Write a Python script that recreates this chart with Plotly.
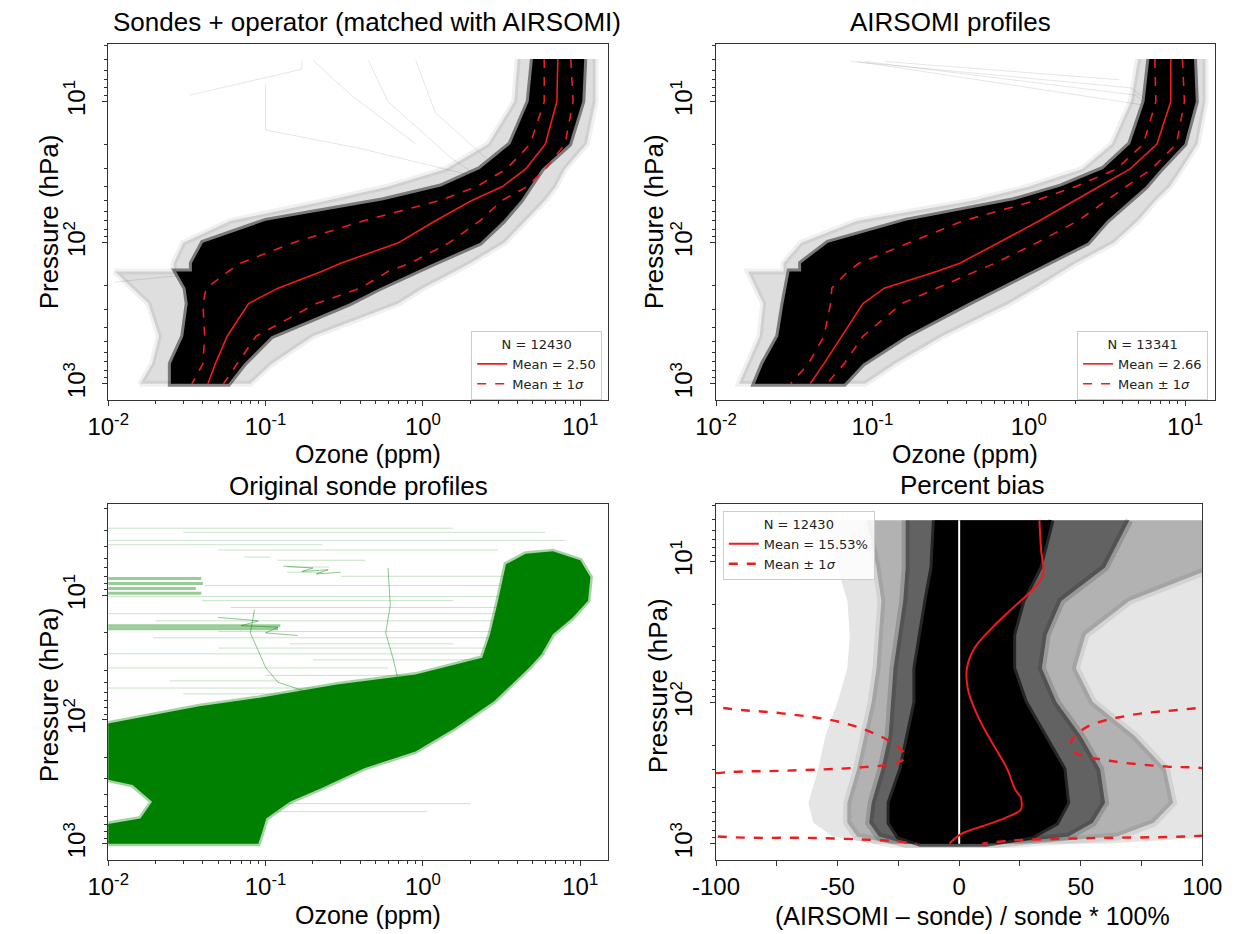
import plotly.graph_objects as go

# ======================= DATA =======================
# Pressure levels (hPa) shared by the two ozone-profile panels (160 repeated for the step)
P_LEV = [5, 10, 20, 30, 40, 50, 70, 100, 140, 160, 160, 210, 270, 460, 720, 1000]

# Panel 1: Sondes + operator (ppm)
op_mean   = [7.2, 7.1, 6.0, 4.5, 3.2, 2.06, 1.2, 0.70, 0.30, 0.227, 0.227, 0.12, 0.078, 0.057, 0.048, 0.043]
op_lo     = [5.9, 5.9, 4.8, 3.4, 2.2, 1.3, 0.42, 0.15, 0.069, 0.058, 0.058, 0.042, 0.040, 0.041, 0.040, 0.034]
op_hi     = [8.7, 9.0, 8.0, 6.0, 4.6, 3.2, 2.3, 1.47, 0.83, 0.60, 0.60, 0.40, 0.21, 0.087, 0.066, 0.054]
op_core_l = [5.0, 4.7, 3.6, 2.3, 1.3, 0.56, 0.10, 0.040, 0.034, 0.034, 0.027, 0.031, 0.032, 0.030, 0.025, 0.025]
op_core_r = [10.6, 10.3, 8.5, 5.7, 4.8, 4.2, 3.24, 2.31, 1.17, 0.93, 0.93, 0.53, 0.34, 0.109, 0.073, 0.058]
op_halo_l = [4.0, 3.8, 2.6, 1.4, 0.6, 0.25, 0.06, 0.03, 0.026, 0.026, 0.011, 0.014, 0.018, 0.021, 0.019, 0.016]
op_halo_r = [12.5, 12.5, 11, 8, 7, 6, 4.5, 3.3, 2.0, 1.6, 1.6, 1.0, 0.7, 0.2, 0.11, 0.08]
op_out_x = [[0.033, 0.17, 0.17], [0.10, 0.10, 0.40, 1.95], [0.9, 1.2, 2.5], [0.45, 0.6, 1.5, 2.8],
            [0.011, 0.03, 0.045], [0.2, 0.35, 0.9]]
op_out_p = [[9.0, 5.9, 5.1], [7.6, 15.9, 21.5, 33], [5.1, 12, 25], [5.1, 10, 25, 40],
            [190, 170, 150], [5.1, 9, 20]]

# Panel 2: AIRSOMI profiles (ppm)
ao_mean   = [8.1, 8.1, 6.6, 4.45, 2.82, 2.0, 1.17, 0.64, 0.362, 0.257, 0.257, 0.119, 0.087, 0.064, 0.049, 0.040]
ao_lo     = [6.4, 6.5, 5.4, 3.65, 2.0, 1.13, 0.38, 0.173, 0.082, 0.0695, 0.0695, 0.055, 0.054, 0.049, 0.039, 0.030]
ao_hi     = [9.6, 9.9, 8.8, 6.1, 4.2, 3.16, 2.06, 1.13, 0.605, 0.455, 0.455, 0.257, 0.154, 0.087, 0.066, 0.051]
ao_core_l = [5.9, 5.5, 4.45, 2.99, 1.6, 0.80, 0.163, 0.052, 0.035, 0.035, 0.0295, 0.028, 0.027, 0.025, 0.020, 0.0177]
ao_core_r = [11.4, 11.7, 9.9, 7.0, 5.6, 4.45, 3.16, 2.38, 1.27, 1.01, 1.01, 0.64, 0.406, 0.163, 0.087, 0.066]
ao_halo_l = [5.0, 4.5, 3.4, 2.2, 1.0, 0.45, 0.08, 0.035, 0.027, 0.027, 0.016, 0.018, 0.02, 0.019, 0.016, 0.014]
ao_halo_r = [13.5, 13.5, 12, 9.5, 8, 6.5, 5, 3.5, 2.0, 1.6, 1.6, 1.1, 0.75, 0.28, 0.14, 0.09]
ao_out_x = [[0.073, 4.5, 5.5], [0.09, 4.8, 6.0], [0.12, 3.8], [0.08, 5.2]]
ao_out_p = [[5.2, 8.0, 9.5], [5.2, 9.0, 11], [5.2, 7.0], [5.2, 10.5]]

# Panel 3: Original sonde profiles, outline of the dense green cloud
gr_poly_x = [0.009, 0.090, 0.0953, 0.101, 0.1426, 0.2255, 0.424, 0.897, 1.59, 2.83, 4.75, 5.65, 6.7, 8.93,
             11.2, 11.6, 10.0, 6.7, 4.49, 3.37, 3.0, 2.67, 2.38, 0.897, 0.284, 0.090, 0.0379, 0.019,
             0.009, 0.009, 0.0143, 0.019, 0.016, 0.009]
gr_poly_p = [1000, 1000, 800, 624, 457, 357, 246, 180, 117, 71, 38, 29.8, 20.5, 15.1,
             11.0, 7.1, 5.2, 4.4, 4.6, 5.6, 11.0, 20.5, 31.7, 43.3, 52, 66.8, 78, 91,
             110, 296, 336, 457, 624, 706]
gr_thick_p  = [7.3, 8.0, 8.8, 9.6, 17.5, 18.5]
gr_thick_x0 = [0.009, 0.009, 0.009, 0.009, 0.009, 0.009]
gr_thick_x1 = [0.039, 0.040, 0.036, 0.039, 0.124, 0.12]
gr_thin_p  = [2.87, 3.1, 3.6, 3.9, 4.3, 4.9, 5.2, 5.9, 6.5, 7.0, 8.3, 10.2, 11.0, 12.5, 14.0, 16.0, 19.5,
              21.9, 24.5, 26.5, 29.5, 33, 38.3, 44, 48.7, 55.6, 62, 474, 550]
gr_thin_x0 = [0.009, 0.03, 0.009, 0.009, 0.05, 0.073, 0.119, 0.137, 0.137, 0.3, 0.041, 0.009, 0.0395, 0.06,
              0.009, 0.02, 0.05, 0.0193, 0.143, 0.05, 0.009, 0.2, 0.009, 0.1, 0.0246, 0.009, 0.03, 0.1, 0.09]
gr_thin_x1 = [1.55, 6, 8, 0.23, 3.0, 0.107, 0.431, 0.254, 0.23, 4.0, 6, 6, 1.56, 5, 8, 3.5, 4.0,
              6, 1.56, 2.5, 6, 3.0, 0.6, 3.0, 0.124, 2.5, 1.2, 2.0, 1.06]
gr_wand_x = [[0.6, 0.62, 0.58, 0.65, 0.7, 0.8], [0.085, 0.08, 0.09, 0.1, 0.12, 0.2],
             [0.13, 0.2, 0.17, 0.25, 0.21, 0.3], [0.05, 0.09, 0.07, 0.12, 0.1, 0.16]]
gr_wand_p = [[6, 12, 20, 33, 50, 70], [13, 20, 28, 38, 50, 62],
             [5.8, 6.0, 6.4, 6.2, 6.7, 6.5], [15, 16, 17.5, 18, 20, 21]]

# Panel 4: Percent bias (%)
pb_mean_p = [5.1, 8.3, 12.2, 15.3, 21.2, 29.5, 41, 57, 79, 110, 153, 213, 296, 411, 471, 512, 572, 655, 751, 839, 912, 1000]
pb_mean   = [33.0, 33.7, 34.6, 31.0, 22.2, 13.5, 6.3, 3.2, 3.5, 6.3, 10.3, 15.1, 19.8, 23.0, 25.4, 25.7, 25.4,
             19.0, 9.5, 1.6, -1.6, -4.0]
pb_lo_p = [5.1, 60, 107, 119, 137, 171, 207, 240, 265, 288, 304, 316, 450, 700, 887, 912, 962, 1000]
pb_lo   = [-185, -160, -100, -73, -49, -33, -25, -22, -25, -41, -73, -100, -150, -150, -100, -57, -25.4, -17.5]
pb_hi_p = [5.1, 60, 108, 123, 149, 191, 225, 258, 284, 291, 450, 700, 877, 912, 947, 1000]
pb_hi   = [250, 200, 100, 70, 52.4, 46, 47.6, 61.9, 85.7, 100, 170, 170, 100, 54, 22.2, 9.5]
pb_band_p = [5.1, 11, 19, 33, 57, 99, 171, 296, 512, 711, 887, 1000]
pb_core_l = [-10, -11, -13.5, -16, -18, -18, -20.6, -23.8, -28.6, -28.6, -25, -16]
pb_core_r = [38, 33, 26, 22.2, 22.2, 27, 35, 42.9, 44.4, 40, 30, 11]
pb_dark_l = [-22, -22, -23, -25, -27, -28, -29, -32, -36, -37, -33, -22]
pb_dark_r = [70, 60, 42, 36, 34, 40, 50, 58, 60, 55, 45, 16]
pb_mid_l  = [-38, -34, -32, -33, -34, -36, -39, -42, -46, -46, -42, -28]
pb_mid_r  = [110, 105, 70, 52, 48, 55, 72, 85, 88, 80, 65, 24]
pb_out_l  = [-55, -50, -46, -45, -46, -50, -55, -58, -62, -60, -52, -35]
pb_out_r  = [110, 110, 110, 110, 110, 110, 110, 110, 110, 110, 110, 60]

N_TEXT = ["N = 12430", "N = 13341", "N = 12430"]
MEAN_TEXT = ["Mean = 2.50", "Mean = 2.66", "Mean = 15.53%"]

LOG_TICKS = [0.01, 0.1, 1, 10]
LOG_TICKTEXT = ["10<sup>-2</sup>", "10<sup>-1</sup>", "10<sup>0</sup>", "10<sup>1</sup>"]
P_TICKS = [10, 100, 1000]
P_TICKTEXT = ["10<sup>1</sup>", "10<sup>2</sup>", "10<sup>3</sup>"]
BIAS_TICKS = [-100, -50, 0, 50, 100]

# ======================= FIGURE =======================
FONT = "Liberation Sans, Arial, sans-serif"
LEGFONT = "DejaVu Sans, sans-serif"
W, H = 1250, 934
OFF = 8          # the page body margin shifts the figure by 8 px; positions below are page pixels
RED = "#ee1c1c"

fig = go.Figure()


def add_band(xl, xr, p, color, xa, ya, outline=None):
    fig.add_trace(go.Scatter(
        x=list(xl) + list(xr)[::-1], y=list(p) + list(p)[::-1],
        mode="lines", fill="toself", fillcolor=color,
        line=dict(width=outline[1] if outline else 0, color=outline[0] if outline else color),
        hoverinfo="skip", showlegend=False, xaxis=xa, yaxis=ya))


def add_line(x, p, color, width, xa, ya, dash="solid", name=None, legend=None, show=False, shape="linear"):
    fig.add_trace(go.Scatter(
        x=x, y=p, mode="lines", line=dict(color=color, width=width, dash=dash, shape=shape),
        name=name, legend=legend, showlegend=show, hoverinfo="skip", xaxis=xa, yaxis=ya))


# ---- panel 1 ----
for ox, opp in zip(op_out_x, op_out_p):
    add_line(ox, opp, "rgba(0,0,0,0.10)", 1, "x", "y")
add_band(op_halo_l, op_halo_r, P_LEV, "rgba(0,0,0,0.13)", "x", "y", outline=("rgba(0,0,0,0.06)", 6))
add_band(op_core_l, op_core_r, P_LEV, "black", "x", "y", outline=("rgba(0,0,0,0.45)", 6))
add_line(op_mean, P_LEV, RED, 1.6, "x", "y", name=MEAN_TEXT[0], legend="legend", show=True)
add_line(op_lo, P_LEV, RED, 1.6, "x", "y", dash="dash", name="Mean ± 1<i>σ</i>", legend="legend", show=True)
add_line(op_hi, P_LEV, RED, 1.6, "x", "y", dash="dash")

# ---- panel 2 ----
for ox, opp in zip(ao_out_x, ao_out_p):
    add_line(ox, opp, "rgba(0,0,0,0.10)", 1, "x2", "y2")
add_band(ao_halo_l, ao_halo_r, P_LEV, "rgba(0,0,0,0.13)", "x2", "y2", outline=("rgba(0,0,0,0.06)", 6))
add_band(ao_core_l, ao_core_r, P_LEV, "black", "x2", "y2", outline=("rgba(0,0,0,0.45)", 6))
add_line(ao_mean, P_LEV, RED, 1.6, "x2", "y2", name=MEAN_TEXT[1], legend="legend2", show=True)
add_line(ao_lo, P_LEV, RED, 1.6, "x2", "y2", dash="dash", name="Mean ± 1<i>σ</i>", legend="legend2", show=True)
add_line(ao_hi, P_LEV, RED, 1.6, "x2", "y2", dash="dash")

# ---- panel 3 ----
thin_x, thin_y = [], []
for pp, a, b in zip(gr_thin_p, gr_thin_x0, gr_thin_x1):
    thin_x += [a, b, None]
    thin_y += [pp, pp, None]
add_line(thin_x, thin_y, "rgba(0,128,0,0.22)", 1, "x3", "y3")
thick_x, thick_y = [], []
for pp, a, b in zip(gr_thick_p, gr_thick_x0, gr_thick_x1):
    thick_x += [a, b, None]
    thick_y += [pp, pp, None]
add_line(thick_x, thick_y, "rgba(0,128,0,0.40)", 3, "x3", "y3")
for wx, wp in zip(gr_wand_x, gr_wand_p):
    add_line(wx, wp, "rgba(0,128,0,0.45)", 1, "x3", "y3")
fig.add_trace(go.Scatter(x=gr_poly_x, y=gr_poly_p, mode="lines", fill="toself", fillcolor="#008000",
                         line=dict(color="rgba(0,128,0,0.35)", width=5), hoverinfo="skip",
                         showlegend=False, xaxis="x3", yaxis="y3"))

# ---- panel 4 ----
add_band(pb_out_l, pb_out_r, pb_band_p, "rgba(0,0,0,0.10)", "x4", "y4")
add_band(pb_mid_l, pb_mid_r, pb_band_p, "rgba(0,0,0,0.22)", "x4", "y4", outline=("rgba(0,0,0,0.08)", 8))
add_band(pb_dark_l, pb_dark_r, pb_band_p, "rgba(0,0,0,0.45)", "x4", "y4", outline=("rgba(0,0,0,0.15)", 8))
add_band(pb_core_l, pb_core_r, pb_band_p, "black", "x4", "y4", outline=("rgba(0,0,0,0.6)", 6))
add_line([0, 0], [pb_mean_p[0], pb_mean_p[-1]], "white", 2, "x4", "y4")
add_line(pb_mean, pb_mean_p, RED, 2, "x4", "y4", name=MEAN_TEXT[2], legend="legend3", show=True, shape="spline")
add_line(pb_lo, pb_lo_p, RED, 2.4, "x4", "y4", dash="dash", name="Mean ± 1<i>σ</i>", legend="legend3",
         show=True, shape="spline")
add_line(pb_hi, pb_hi_p, RED, 2.4, "x4", "y4", dash="dash", shape="spline")

# ======================= AXES =======================
def px_dom_x(a, b):
    return [(a - OFF) / W, (b - OFF) / W]


def px_dom_y(top, bottom):
    return [1 - (bottom - OFF) / H, 1 - (top - OFF) / H]


OZ_MINOR = [m * d for d in (0.01, 0.1, 1) for m in range(2, 10)]
P_MINOR = [m * d for d in (1, 10, 100) for m in range(2, 10)]
AXCOL = "#333333"
TICKFONT = dict(family=FONT, size=24, color="black")

common = dict(showline=True, linecolor=AXCOL, linewidth=1, mirror=True, showgrid=False, zeroline=False,
              ticks="outside", ticklen=5, tickwidth=1, tickcolor=AXCOL, tickfont=TICKFONT)


def ozone_x(domain, rng, anchor):
    return dict(domain=domain, anchor=anchor, type="log", range=rng, tickmode="array",
                tickvals=LOG_TICKS, ticktext=LOG_TICKTEXT, ticklabelstandoff=0,
                minor=dict(tickmode="array", tickvals=OZ_MINOR, ticks="outside", ticklen=3, tickcolor=AXCOL),
                **common)


def press_y(domain, rng, anchor):
    return dict(domain=domain, anchor=anchor, type="log", range=rng, tickmode="array",
                tickvals=P_TICKS, ticktext=P_TICKTEXT, tickangle=-90, ticklabelstandoff=8,
                minor=dict(tickmode="array", tickvals=P_MINOR, ticks="outside", ticklen=3, tickcolor=AXCOL),
                **common)


X12 = px_dom_x(87, 605)
X2 = px_dom_x(717, 1234)
X4 = px_dom_x(717, 1221)
YT = px_dom_y(44, 400)
YB = px_dom_y(504, 860)

fig.update_layout(
    xaxis=ozone_x(X12, [-2, 1.176], "y"),
    yaxis=press_y(YT, [3.115, 0.592], "x"),
    xaxis2=ozone_x(X2, [-2, 1.19], "y2"),
    yaxis2=press_y(YT, [3.115, 0.592], "x2"),
    xaxis3=ozone_x(X12, [-2, 1.176], "y3"),
    yaxis3=press_y(YB, [3.13, 0.263], "x3"),
    xaxis4=dict(domain=X4, anchor="y4", range=[-100, 100], tickmode="array", tickvals=BIAS_TICKS,
                ticktext=[str(v) for v in BIAS_TICKS], ticklabelstandoff=0,
                minor=dict(tickmode="array", tickvals=[-75, -25, 25, 75], ticks="outside", ticklen=5,
                           tickcolor=AXCOL), **common),
    yaxis4=press_y(YB, [3.115, 0.592], "x4"),
)


def legend_cfg(title, x, y, xanchor):
    return dict(title=dict(text=title, side="top center", font=dict(family=LEGFONT, size=13, color="#222")),
                x=(x - OFF) / W, y=1 - (y - OFF) / H, xanchor=xanchor, yanchor="top",
                xref="paper", yref="paper",
                bgcolor="rgba(255,255,255,0.85)", bordercolor="#cccccc", borderwidth=1,
                font=dict(family=LEGFONT, size=13, color="#222"), itemwidth=30, tracegroupgap=0)


fig.update_layout(
    legend=legend_cfg(N_TEXT[0], 599, 331, "right"),
    legend2=legend_cfg(N_TEXT[1], 1227, 331, "right"),
    legend3=legend_cfg(N_TEXT[2], 724, 511, "left"),
)

# ======================= TEXT =======================
ann = []


def text(s, x, y, size=26, angle=0):
    ann.append(dict(text=s, x=(x - OFF) / W, y=1 - (y - OFF) / H, xref="paper", yref="paper",
                    showarrow=False, xanchor="center", yanchor="middle", textangle=angle,
                    font=dict(family=FONT, size=size, color="black")))


text("Sondes + operator (matched with AIRSOMI)", 355, 22)
text("AIRSOMI profiles", 960, 22)
text("Original sonde profiles", 346, 486)
text("Percent bias", 983, 485)
text("Pressure (hPa)", 26, 222, angle=-90)
text("Pressure (hPa)", 653, 222, angle=-90)
text("Pressure (hPa)", 26, 695, angle=-90)
text("Pressure (hPa)", 657, 686, angle=-90)
text("Ozone (ppm)", 356, 454, size=25)
text("Ozone (ppm)", 975, 454, size=25)
text("Ozone (ppm)", 356, 915, size=25)
text("(AIRSOMI – sonde) / sonde * 100%", 983, 916, size=25)

fig.update_layout(annotations=ann, width=W, height=H, autosize=False,
                  margin=dict(l=0, r=0, t=0, b=0), plot_bgcolor="white", paper_bgcolor="white",
                  font=dict(family=FONT, color="black"))

fig.write_html("out.html")
